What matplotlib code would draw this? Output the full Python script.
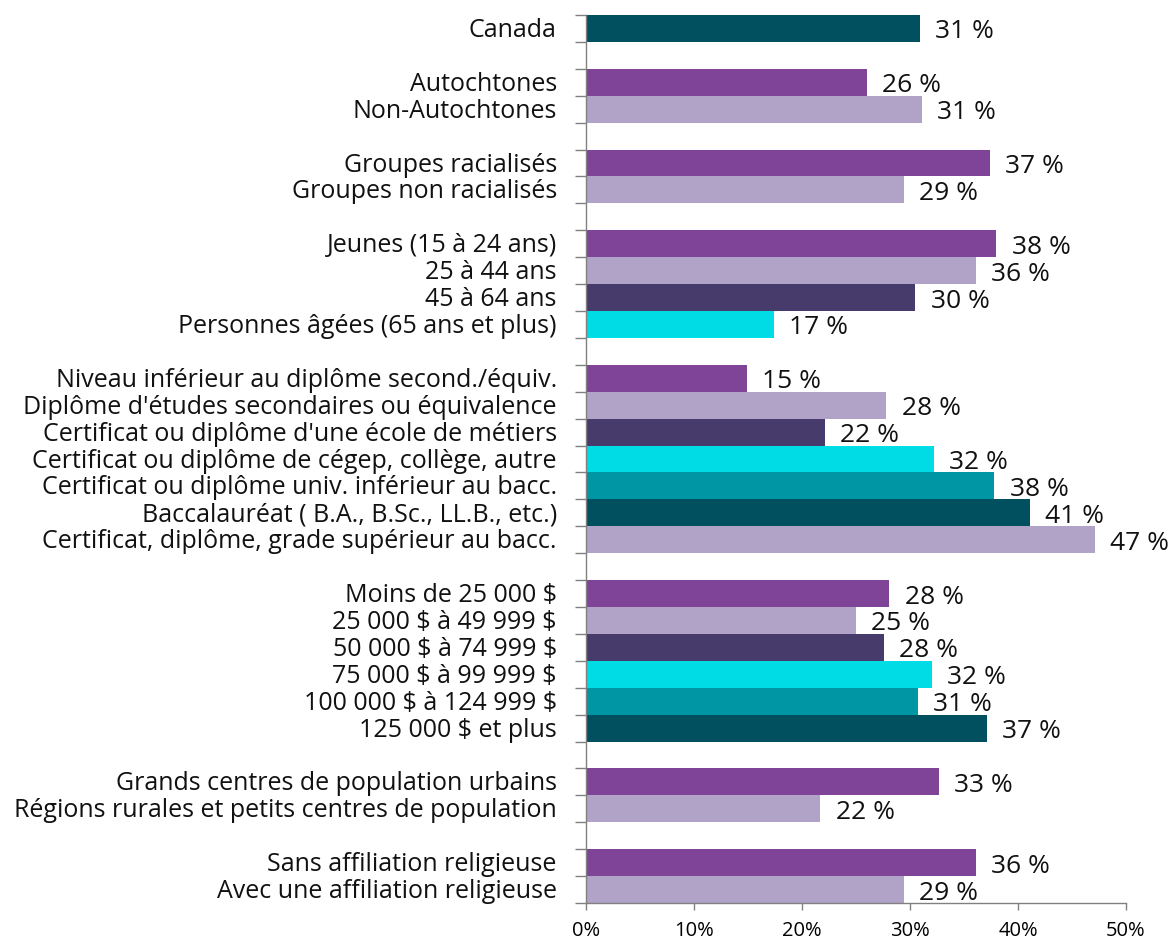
import matplotlib
matplotlib.use('Agg')
import matplotlib.pyplot as plt

plt.rcParams['font.family'] = ['Open Sans', 'DejaVu Sans']
plt.rcParams['text.parse_math'] = False

# groups of categories (top to bottom)
canada_labels = ['Canada']
canada_values = [30.9]

autochtone_labels = ['Autochtones', 'Non-Autochtones']
autochtone_values = [26.0, 31.1]

racial_labels = ['Groupes racialisés', 'Groupes non racialisés']
racial_values = [37.4, 29.4]

age_labels = ['Jeunes (15 à 24 ans)', '25 à 44 ans', '45 à 64 ans',
              'Personnes âgées (65 ans et plus)']
age_values = [38.0, 36.1, 30.5, 17.4]

educ_labels = ['Niveau inférieur au diplôme second./équiv.',
               "Diplôme d'études secondaires ou équivalence",
               "Certificat ou diplôme d'une école de métiers",
               'Certificat ou diplôme de cégep, collège, autre',
               'Certificat ou diplôme univ. inférieur au bacc.',
               'Baccalauréat ( B.A., B.Sc., LL.B., etc.)',
               'Certificat, diplôme, grade supérieur au bacc.']
educ_values = [14.9, 27.8, 22.1, 32.2, 37.8, 41.1, 47.1]

income_labels = ['Moins de 25 000 $', '25 000 $ à 49 999 $', '50 000 $ à 74 999 $',
                 '75 000 $ à 99 999 $', '100 000 $ à 124 999 $', '125 000 $ et plus']
income_values = [28.1, 25.0, 27.6, 32.0, 30.7, 37.1]

region_labels = ['Grands centres de population urbains',
                 'Régions rurales et petits centres de population']
region_values = [32.7, 21.7]

relig_labels = ['Sans affiliation religieuse', 'Avec une affiliation religieuse']
relig_values = [36.1, 29.4]

# colours in order within a group
palette = ['#7f4398', '#b1a2c8', '#473b6c', '#00dce6', '#0096a4', '#00505f', '#b1a2c8']
canada_color = '#00505f'

groups = [
    (canada_labels, canada_values, [canada_color]),
    (autochtone_labels, autochtone_values, palette),
    (racial_labels, racial_values, palette),
    (age_labels, age_values, palette),
    (educ_labels, educ_values, palette),
    (income_labels, income_values, palette),
    (region_labels, region_values, palette),
    (relig_labels, relig_values, palette),
]

fig = plt.figure(figsize=(11.72, 9.42), dpi=100)
ax = fig.add_axes([586 / 1172, 1 - 903 / 942, 540 / 1172, 888 / 942])

pos = 0
ypos, labels, values, colors = [], [], [], []
for labs, vals, cols in groups:
    for i in range(len(labs)):
        ypos.append(pos)
        labels.append(labs[i])
        values.append(vals[i])
        colors.append(cols[i])
        pos += 1
    pos += 1  # blank slot between groups
nslots = pos - 1

ax.barh(ypos, values, height=1.0, color=colors)

for y, v in zip(ypos, values):
    ax.annotate(f'{round(v):d} %', xy=(v, y), xytext=(11, -2.5), textcoords='offset points',
                va='center', ha='left', fontsize=19, color='#111111')

# category labels next to the axis
for y, lab in zip(ypos, labels):
    ax.annotate(lab, xy=(0, y), xycoords=('axes fraction', 'data'), xytext=(-21, -1.5),
                textcoords='offset points', ha='right', va='center',
                fontsize=18, color='#111111')

ax.set_ylim(nslots - 0.5, -0.5)
ax.set_yticks([k - 0.5 for k in range(nslots + 1)])
ax.set_yticklabels([])
ax.tick_params(axis='y', length=8, color='#808080', width=1)

ax.set_xlim(0, 50)
ax.set_xticks(range(0, 51, 10))
ax.set_xticklabels([f'{t}%' for t in range(0, 51, 10)], fontsize=14.5)
ax.tick_params(axis='x', length=5, color='#808080', width=1, pad=8)

for s in ['top', 'right']:
    ax.spines[s].set_visible(False)
for s in ['left', 'bottom']:
    ax.spines[s].set_color('#808080')
    ax.spines[s].set_linewidth(1)

fig.savefig('out.png', dpi=100)
